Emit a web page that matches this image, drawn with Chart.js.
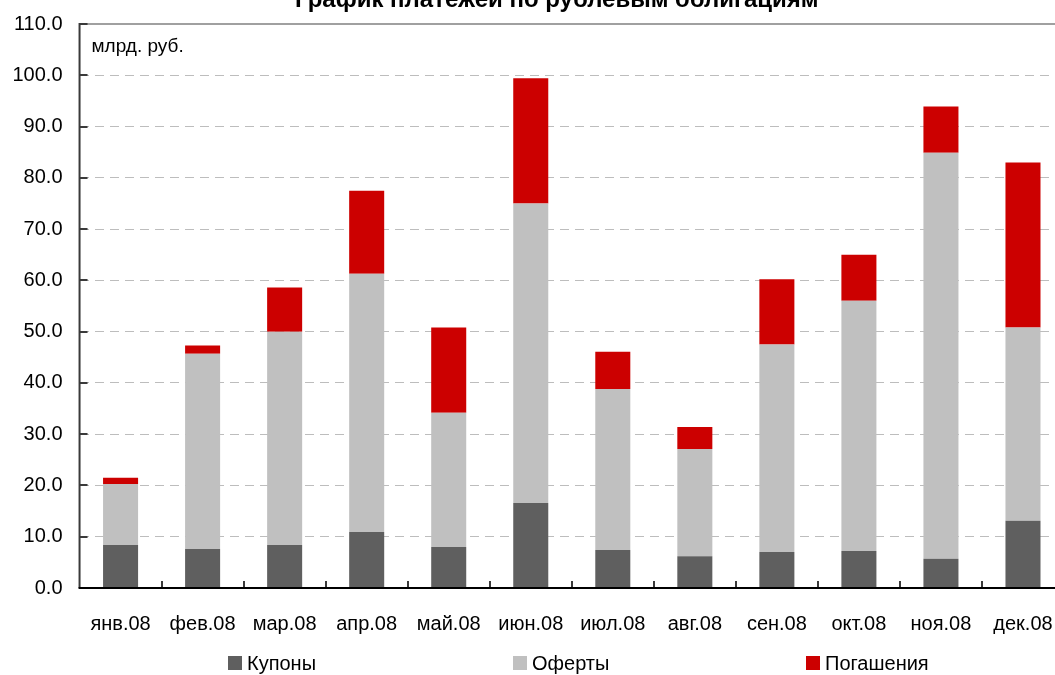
<!DOCTYPE html>
<html>
<head>
<meta charset="utf-8">
<script src="https://cdn.jsdelivr.net/npm/chart.js@4/dist/chart.umd.min.js"></script>
<style>
html,body{margin:0;padding:0;background:#fff;overflow:hidden;width:1055px;height:675px;}
#wrap{position:absolute;left:0;top:0;width:1068px;height:675px;}
</style>
</head>
<body>
<div id="wrap"><canvas id="c" width="1068" height="675"></canvas></div>
<script>
const TITLE = 'График платежей по рублевым облигациям';
const UNIT = 'млрд. руб.';
const categories = ['янв.08','фев.08','мар.08','апр.08','май.08','июн.08','июл.08','авг.08','сен.08','окт.08','ноя.08','дек.08'];
const seriesNames = ['Купоны','Оферты','Погашения'];
const kupony    = [8.4, 7.6, 8.4, 10.9, 8.0, 16.6, 7.4, 6.2, 7.0, 7.2, 5.7, 13.1];
const oferty    = [11.9, 38.1, 41.6, 50.4, 26.2, 58.4, 31.4, 20.9, 40.5, 48.8, 79.2, 37.7];
const pogasheniya = [1.2, 1.6, 8.6, 16.2, 16.6, 24.4, 7.3, 4.3, 12.7, 9.0, 9.0, 32.2];
const yTicks = [0,10,20,30,40,50,60,70,80,90,100,110];

const FONT = "'Liberation Sans Narrow','Arial Narrow','Liberation Sans',Arial,sans-serif";
const colors = ['#5f5f5f','#c0c0c0','#cc0000'];

const decor = {
  id: 'decor',
  afterDatasetsDraw(chart) {
    const {ctx, chartArea: a, scales} = chart;
    const y = scales.y, x = scales.x;
    ctx.save();
    // top border line
    ctx.strokeStyle = '#a0a0a0'; ctx.lineWidth = 2;
    ctx.beginPath(); ctx.moveTo(a.left, y.getPixelForValue(110)); ctx.lineTo(a.right, y.getPixelForValue(110)); ctx.stroke();
    // left axis
    ctx.strokeStyle = '#3a3a3a'; ctx.lineWidth = 2;
    ctx.beginPath(); ctx.moveTo(a.left, a.top - 1); ctx.lineTo(a.left, a.bottom); ctx.stroke();
    // y ticks inward
    yTicks.forEach(v => {
      const py = Math.round(y.getPixelForValue(v));
      ctx.beginPath(); ctx.moveTo(a.left, py); ctx.lineTo(a.left + 8, py); ctx.stroke();
    });
    // x ticks inward at category boundaries
    const step = x.getPixelForValue(1) - x.getPixelForValue(0);
    for (let i = 1; i < categories.length; i++) {
      const px = Math.round(x.getPixelForValue(i) - step / 2);
      ctx.beginPath(); ctx.moveTo(px, a.bottom); ctx.lineTo(px, a.bottom - 7); ctx.stroke();
    }
    // bottom axis
    ctx.strokeStyle = '#000'; ctx.lineWidth = 2;
    ctx.beginPath(); ctx.moveTo(a.left - 1, a.bottom); ctx.lineTo(a.right, a.bottom); ctx.stroke();
    // unit label
    ctx.fillStyle = '#000';
    ctx.font = '19px ' + FONT;
    ctx.textAlign = 'left'; ctx.textBaseline = 'middle';
    ctx.fillText(UNIT, a.left + 12, a.top + 23);
    // title (cut at top)
    ctx.font = 'bold 24px ' + FONT;
    ctx.textAlign = 'center'; ctx.textBaseline = 'alphabetic';
    ctx.fillText(TITLE, (a.left + a.right) / 2 - 15, 7);
    // legend
    ctx.font = '20px ' + FONT;
    ctx.textBaseline = 'middle'; ctx.textAlign = 'left';
    const box = 14, gapBox = 5, gap = 196.5;
    const widths = seriesNames.map(n => box + gapBox + ctx.measureText(n).width);
    const total = widths.reduce((s, w) => s + w, 0) + gap * (seriesNames.length - 1);
    let lx = (a.left + a.right) / 2 + 6.5 - total / 2;
    const ly = 663;
    seriesNames.forEach((n, i) => {
      ctx.fillStyle = colors[i];
      ctx.fillRect(Math.round(lx), ly - box / 2, box, box);
      ctx.fillStyle = '#000';
      ctx.fillText(n, Math.round(lx) + box + gapBox, ly + 1);
      lx += widths[i] + gap;
    });
    ctx.restore();
  }
};

new Chart(document.getElementById('c'), {
  type: 'bar',
  data: {
    labels: categories,
    datasets: [
      {label: seriesNames[0], data: kupony, backgroundColor: colors[0]},
      {label: seriesNames[1], data: oferty, backgroundColor: colors[1]},
      {label: seriesNames[2], data: pogasheniya, backgroundColor: colors[2]}
    ]
  },
  options: {
    responsive: false,
    animation: false,
    devicePixelRatio: 1,
    datasets: {bar: {barPercentage: 0.427, categoryPercentage: 1}},
    layout: {padding: {left: 9.5, right: 4, top: 24, bottom: 36}},
    plugins: {legend: {display: false}, title: {display: false}, tooltip: {enabled: false}},
    scales: {
      x: {
        stacked: true,
        grid: {display: true, color: 'rgba(0,0,0,0)', drawTicks: true, tickLength: 21, tickColor: 'rgba(0,0,0,0)'},
        border: {display: false},
        ticks: {color: '#000', font: {family: FONT, size: 20}, padding: 3, maxRotation: 0, autoSkip: false}
      },
      y: {
        stacked: true,
        min: 0, max: 110,
        afterBuildTicks(scale) { scale.ticks = yTicks.map(v => ({value: v})); },
        grid: {
          drawTicks: true, tickLength: 14, tickColor: 'rgba(0,0,0,0)',
          color: c => (c.tick && (c.tick.value === 0 || c.tick.value === 110)) ? 'rgba(0,0,0,0)' : '#bdbdbd',
          lineWidth: 1
        },
        border: {display: false, dash: [9, 6]},
        ticks: {color: '#000', font: {family: FONT, size: 20}, padding: 3, callback: v => Number(v).toFixed(1)}
      }
    }
  },
  plugins: [decor]
});
</script>
</body>
</html>
